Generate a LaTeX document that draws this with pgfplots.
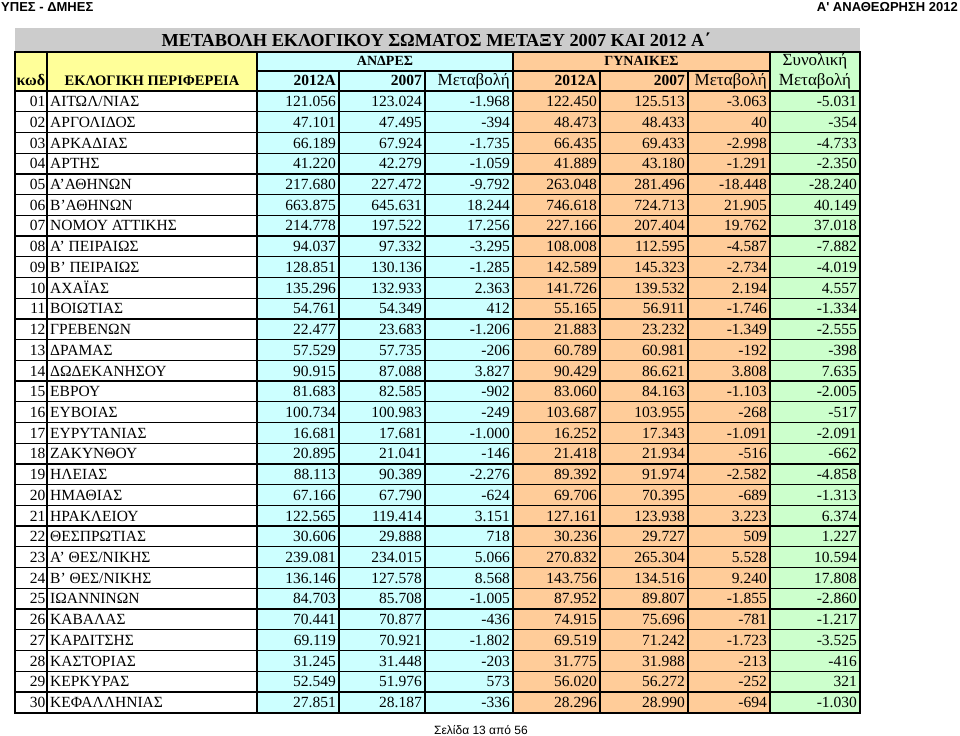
\documentclass[border=0pt]{standalone}
\usepackage{fontspec}
\setmainfont{Liberation Serif}
\newfontfamily\headsans{Liberation Sans}
\usepackage{pgfplots}
\usepackage{pgfplotstable}
\pgfplotsset{compat=1.18}

\definecolor{titlegray}{HTML}{CCCCCC}
\definecolor{headyellow}{HTML}{FFFF99}
\definecolor{mencyan}{HTML}{CCFFFF}
\definecolor{womenpeach}{HTML}{FFCC99}
\definecolor{totalgreen}{HTML}{CCFFCC}

\newcommand\cellfont{\fontsize{15.5bp}{17bp}\selectfont}
\newcommand\lowerhead{\fontsize{17bp}{18bp}\selectfont}

% k = row number, values kept as printed (dot = thousands separator)
\pgfplotstableread{
k code name m12 m07 mch f12 f07 fch tot
1 01 ΑΙΤΩΛ/ΝΙΑΣ 121.056 123.024 -1.968 122.450 125.513 -3.063 -5.031
2 02 ΑΡΓΟΛΙΔΟΣ 47.101 47.495 -394 48.473 48.433 40 -354
3 03 ΑΡΚΑΔΙΑΣ 66.189 67.924 -1.735 66.435 69.433 -2.998 -4.733
4 04 ΑΡΤΗΣ 41.220 42.279 -1.059 41.889 43.180 -1.291 -2.350
5 05 Α'ΑΘΗΝΩΝ 217.680 227.472 -9.792 263.048 281.496 -18.448 -28.240
6 06 Β'ΑΘΗΝΩΝ 663.875 645.631 18.244 746.618 724.713 21.905 40.149
7 07 {ΝΟΜΟΥ ΑΤΤΙΚΗΣ} 214.778 197.522 17.256 227.166 207.404 19.762 37.018
8 08 {Α' ΠΕΙΡΑΙΩΣ} 94.037 97.332 -3.295 108.008 112.595 -4.587 -7.882
9 09 {Β' ΠΕΙΡΑΙΩΣ} 128.851 130.136 -1.285 142.589 145.323 -2.734 -4.019
10 10 ΑΧΑΪΑΣ 135.296 132.933 2.363 141.726 139.532 2.194 4.557
11 11 ΒΟΙΩΤΙΑΣ 54.761 54.349 412 55.165 56.911 -1.746 -1.334
12 12 ΓΡΕΒΕΝΩΝ 22.477 23.683 -1.206 21.883 23.232 -1.349 -2.555
13 13 ΔΡΑΜΑΣ 57.529 57.735 -206 60.789 60.981 -192 -398
14 14 ΔΩΔΕΚΑΝΗΣΟΥ 90.915 87.088 3.827 90.429 86.621 3.808 7.635
15 15 ΕΒΡΟΥ 81.683 82.585 -902 83.060 84.163 -1.103 -2.005
16 16 ΕΥΒΟΙΑΣ 100.734 100.983 -249 103.687 103.955 -268 -517
17 17 ΕΥΡΥΤΑΝΙΑΣ 16.681 17.681 -1.000 16.252 17.343 -1.091 -2.091
18 18 ΖΑΚΥΝΘΟΥ 20.895 21.041 -146 21.418 21.934 -516 -662
19 19 ΗΛΕΙΑΣ 88.113 90.389 -2.276 89.392 91.974 -2.582 -4.858
20 20 ΗΜΑΘΙΑΣ 67.166 67.790 -624 69.706 70.395 -689 -1.313
21 21 ΗΡΑΚΛΕΙΟΥ 122.565 119.414 3.151 127.161 123.938 3.223 6.374
22 22 ΘΕΣΠΡΩΤΙΑΣ 30.606 29.888 718 30.236 29.727 509 1.227
23 23 {Α' ΘΕΣ/ΝΙΚΗΣ} 239.081 234.015 5.066 270.832 265.304 5.528 10.594
24 24 {Β' ΘΕΣ/ΝΙΚΗΣ} 136.146 127.578 8.568 143.756 134.516 9.240 17.808
25 25 ΙΩΑΝΝΙΝΩΝ 84.703 85.708 -1.005 87.952 89.807 -1.855 -2.860
26 26 ΚΑΒΑΛΑΣ 70.441 70.877 -436 74.915 75.696 -781 -1.217
27 27 ΚΑΡΔΙΤΣΗΣ 69.119 70.921 -1.802 69.519 71.242 -1.723 -3.525
28 28 ΚΑΣΤΟΡΙΑΣ 31.245 31.448 -203 31.775 31.988 -213 -416
29 29 ΚΕΡΚΥΡΑΣ 52.549 51.976 573 56.020 56.272 -252 321
30 30 ΚΕΦΑΛΛΗΝΙΑΣ 27.851 28.187 -336 28.296 28.990 -694 -1.030
}\elecdata

\pgfplotsset{
  cellnum/.style={only marks, mark=none, point meta=explicit symbolic,
    nodes near coords,
    every node near coord/.append style={anchor=base east, inner sep=0pt, font=\cellfont, text=black}},
  celltext/.style={cellnum,
    every node near coord/.append style={anchor=base west}},
}
\tikzset{gridline/.style={black, line width=1.3bp}}

\begin{document}
\begin{tikzpicture}
\useasboundingbox (0,0) rectangle (960bp,736bp);
\begin{axis}[
  at={(0,0)}, anchor=south west,
  scale only axis, width=960bp, height=736bp,
  xmin=0, xmax=960, ymin=0, ymax=736, y dir=reverse,
  hide axis, clip=false,
]
% cell backgrounds
\fill[titlegray] (15,28) rectangle (860,52);
\fill[headyellow] (15,52) rectangle (257,91);
\fill[mencyan] (257,52) rectangle (513,712.6);
\fill[womenpeach] (513,52) rectangle (770,712.6);
\fill[totalgreen] (770,52) rectangle (860,712.6);

% rules
\pgfplotsinvokeforeach{0,...,30}{
  \draw[gridline] (15,{91+#1*20.72}) -- (860,{91+#1*20.72});
}
\pgfplotsinvokeforeach{15,47,257,339,425,513,600,688,770,860}{
  \draw[gridline] (#1,91) -- (#1,712.6);
}
\pgfplotsinvokeforeach{15,47,257,513,770,860}{
  \draw[gridline] (#1,52) -- (#1,91);
}
\pgfplotsinvokeforeach{339,425,600,688}{
  \draw[gridline] (#1,71) -- (#1,91);
}
\draw[gridline] (15,52) -- (860,52);
\draw[gridline] (257,71) -- (770,71);
\draw[black, line width=2.6bp] (15,91) -- (860,91);
\draw[black, line width=2bp] (15,52) rectangle (860,712.6);

% page header / footer
\node[anchor=base west, inner sep=0pt, font=\headsans\bfseries\fontsize{13bp}{14bp}\selectfont] at (1,12) {ΥΠΕΣ - ΔΜΗΕΣ};
\node[anchor=base east, inner sep=0pt, font=\headsans\bfseries\fontsize{13bp}{14bp}\selectfont] at (958,12) {Α' ΑΝΑΘΕΩΡΗΣΗ 2012};
\node[anchor=base, inner sep=0pt, font=\headsans\fontsize{12bp}{13bp}\selectfont] at (481,734) {Σελίδα 13 από 56};

% title and column heads
\node[anchor=base, inner sep=0pt, font=\bfseries\fontsize{18.3bp}{20bp}\selectfont] at (436,47) {ΜΕΤΑΒΟΛΗ ΕΚΛΟΓΙΚΟΥ ΣΩΜΑΤΟΣ ΜΕΤΑΞΥ 2007 ΚΑΙ 2012 Α΄};
\node[anchor=base, inner sep=0pt, font=\bfseries\fontsize{14bp}{15bp}\selectfont] at (385,66) {ΑΝΔΡΕΣ};
\node[anchor=base, inner sep=0pt, font=\bfseries\fontsize{14bp}{15bp}\selectfont] at (641.5,66) {ΓΥΝΑΙΚΕΣ};
\node[anchor=base, inner sep=0pt, font=\lowerhead] at (815,66) {Συνολική};
\node[anchor=base west, inner sep=0pt, font=\bfseries\fontsize{16bp}{17bp}\selectfont] at (16.5,86) {κωδ};
\node[anchor=base, inner sep=0pt, font=\bfseries\fontsize{14.5bp}{16bp}\selectfont] at (152,86) {ΕΚΛΟΓΙΚΗ ΠΕΡΙΦΕΡΕΙΑ};
\node[anchor=base east, inner sep=0pt, font=\bfseries\cellfont] at (336,86) {2012Α};
\node[anchor=base east, inner sep=0pt, font=\bfseries\cellfont] at (422,86) {2007};
\node[anchor=base east, inner sep=0pt, font=\lowerhead] at (510,86) {Μεταβολή};
\node[anchor=base east, inner sep=0pt, font=\bfseries\cellfont] at (597,86) {2012Α};
\node[anchor=base east, inner sep=0pt, font=\bfseries\cellfont] at (685,86) {2007};
\node[anchor=base east, inner sep=0pt, font=\lowerhead] at (767,86) {Μεταβολή};
\node[anchor=base, inner sep=0pt, font=\lowerhead] at (815,86) {Μεταβολή};

% body cells, one column at a time
\addplot[cellnum] table[x expr=45.5, y expr={91+(\thisrow{k}-0.5)*20.72+5.3}, meta=code] {\elecdata};
\addplot[celltext] table[x expr=50, y expr={91+(\thisrow{k}-0.5)*20.72+5.3}, meta=name] {\elecdata};
\addplot[cellnum] table[x expr=336, y expr={91+(\thisrow{k}-0.5)*20.72+5.3}, meta=m12] {\elecdata};
\addplot[cellnum] table[x expr=422, y expr={91+(\thisrow{k}-0.5)*20.72+5.3}, meta=m07] {\elecdata};
\addplot[cellnum] table[x expr=510, y expr={91+(\thisrow{k}-0.5)*20.72+5.3}, meta=mch] {\elecdata};
\addplot[cellnum] table[x expr=597, y expr={91+(\thisrow{k}-0.5)*20.72+5.3}, meta=f12] {\elecdata};
\addplot[cellnum] table[x expr=685, y expr={91+(\thisrow{k}-0.5)*20.72+5.3}, meta=f07] {\elecdata};
\addplot[cellnum] table[x expr=767, y expr={91+(\thisrow{k}-0.5)*20.72+5.3}, meta=fch] {\elecdata};
\addplot[cellnum] table[x expr=857, y expr={91+(\thisrow{k}-0.5)*20.72+5.3}, meta=tot] {\elecdata};
\end{axis}
\end{tikzpicture}
\end{document}
